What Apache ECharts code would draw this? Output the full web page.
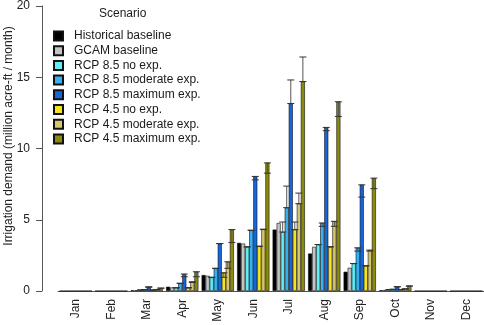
<!DOCTYPE html>
<html>
<head>
<meta charset="utf-8">
<script src="https://cdn.jsdelivr.net/npm/echarts@6/dist/echarts.min.js"></script>
<style>
  html, body { margin: 0; padding: 0; background: #fff; }
  #main { width: 484px; height: 325px; }
</style>
</head>
<body>
<div id="main"></div>
<script>
// 月份
var months = ['Jan', 'Feb', 'Mar', 'Apr', 'May', 'Jun', 'Jul', 'Aug', 'Sep', 'Oct', 'Nov', 'Dec'];
var yTicks = [0, 5, 10, 15, 20];

// 柱子数值 (million acre-ft / month)
var historical = [0, 0, 0.05, 0.30, 1.12, 3.38, 4.31, 2.63, 1.35, 0.05, 0, 0];
var gcam       = [0, 0, 0.05, 0.25, 1.07, 3.33, 4.77, 3.10, 1.63, 0.07, 0, 0];
var rcp85No    = [0, 0, 0.07, 0.23, 0.96, 3.10, 4.14, 3.26, 1.93, 0.10, 0, 0];
var rcp85Mod   = [0, 0, 0.10, 0.54, 1.59, 4.26, 5.85, 4.77, 3.03, 0.12, 0, 0];
var rcp85Max   = [0, 0, 0.26, 1.19, 3.33, 8.04, 13.16, 11.48, 7.45, 0.30, 0, 0];
var rcp45No    = [0, 0, 0.07, 0.23, 1.28, 3.14, 4.31, 3.10, 1.77, 0.10, 0, 0];
var rcp45Mod   = [0, 0, 0.10, 0.65, 2.05, 4.33, 6.13, 4.89, 2.87, 0.15, 0, 0];
var rcp45Max   = [0, 0, 0.20, 1.35, 4.31, 8.99, 14.70, 13.28, 7.92, 0.35, 0, 0];

// 误差线另一端
var rcp85NoErr  = [0, 0, 0.07, 0.23, 0.96, 3.10, 4.84, 3.26, 1.93, 0.10, 0, 0];
var rcp85ModErr = [0, 0, 0.10, 0.54, 1.59, 4.26, 7.36, 4.54, 2.80, 0.12, 0, 0];
var rcp85MaxErr = [0, 0, 0.30, 1.00, 3.33, 7.80, 14.81, 11.25, 6.59, 0.30, 0, 0];
var rcp45NoErr  = [0, 0, 0.07, 0.23, 0.96, 3.14, 4.84, 3.10, 1.77, 0.10, 0, 0];
var rcp45ModErr = [0, 0, 0.10, 0.60, 1.59, 4.33, 6.87, 4.54, 2.80, 0.15, 0, 0];
var rcp45MaxErr = [0, 0, 0.20, 1.00, 3.40, 8.27, 16.42, 12.25, 7.18, 0.35, 0, 0];

var names = ['Historical baseline', 'GCAM baseline', 'RCP 8.5 no exp.', 'RCP 8.5 moderate exp.',
    'RCP 8.5 maximum exp.', 'RCP 4.5 no exp.', 'RCP 4.5 moderate exp.', 'RCP 4.5 maximum exp.'];
var colors = ['#000000', '#c4c4c4', '#5ef0f6', '#38b2f2', '#1467dc', '#f7e51c', '#d5c66e', '#8c8a0c'];
var values = [historical, gcam, rcp85No, rcp85Mod, rcp85Max, rcp45No, rcp45Mod, rcp45Max];
var errEnds = [null, null, rcp85NoErr, rcp85ModErr, rcp85MaxErr, rcp45NoErr, rcp45ModErr, rcp45MaxErr];

var GAP = 0.09;
var FONT = 'Liberation Sans, Arial, sans-serif';

var myChart = echarts.init(document.getElementById('main'));

var series = [];
for (var i = 0; i < names.length; i++) {
    series.push({
        name: names[i],
        type: 'bar',
        barGap: '0%',
        barCategoryGap: (GAP * 100) + '%',
        data: values[i],
        itemStyle: { color: colors[i], borderColor: '#111', borderWidth: 0.6 },
        silent: true
    });
}

// 误差线数据
var errData = [];
for (var k = 0; k < names.length; k++) {
    if (!errEnds[k]) continue;
    for (var m = 0; m < months.length; m++) {
        if (values[k][m] > 0) errData.push([m, k, values[k][m], errEnds[k][m]]);
    }
}

series.push({
    type: 'custom',
    silent: true,
    z: 5,
    data: errData,
    renderItem: function (params, api) {
        var m = api.value(0), k = api.value(1);
        var catW = api.size([1, 0])[0];
        var bw = catW * (1 - GAP) / names.length;
        var cx = api.coord([m, 0])[0] - catW * (1 - GAP) / 2 + (k + 0.5) * bw;
        var y1 = api.coord([m, api.value(2)])[1];
        var y2 = api.coord([m, api.value(3)])[1];
        var cap = 3.5;
        var st = { stroke: '#333', lineWidth: 1 };
        return {
            type: 'group',
            children: [
                { type: 'line', shape: { x1: cx, y1: y1, x2: cx, y2: y2 }, style: { stroke: '#555', lineWidth: 1 } },
                { type: 'line', shape: { x1: cx - cap, y1: y1, x2: cx + cap, y2: y1 }, style: st },
                { type: 'line', shape: { x1: cx - cap, y1: y2, x2: cx + cap, y2: y2 }, style: st }
            ]
        };
    }
});

var option = {
    animation: false,
    textStyle: { fontFamily: FONT },
    title: {
        text: 'Scenario',
        left: 99,
        top: 8,
        padding: 0,
        textStyle: { fontSize: 12, fontWeight: 'normal', color: '#1a1a1a', fontFamily: FONT }
    },
    legend: {
        orient: 'vertical',
        left: 53,
        top: 30,
        padding: 0,
        itemGap: 2.7,
        itemWidth: 21,
        itemHeight: 9,
        icon: 'path://M0,0L10,0L10,10L0,10Z',
        data: names,
        selectedMode: false,
        textStyle: { fontSize: 12, lineHeight: 12, color: '#1a1a1a', fontFamily: FONT }
    },
    grid: { left: 58, right: 0, top: 5, bottom: 34 },
    xAxis: {
        type: 'category',
        data: months,
        axisLine: { lineStyle: { color: '#555', width: 1 } },
        axisTick: { alignWithLabel: true, length: 6, lineStyle: { color: '#555' } },
        axisLabel: { rotate: 90, fontSize: 12, color: '#222', margin: 8, fontFamily: FONT }
    },
    yAxis: {
        type: 'value',
        min: yTicks[0],
        max: yTicks[yTicks.length - 1],
        interval: 5,
        offset: 16,
        splitLine: { show: false },
        axisLine: { show: true, lineStyle: { color: '#555', width: 1 } },
        axisTick: { show: true, length: 6, lineStyle: { color: '#555' } },
        axisLabel: { fontSize: 12, color: '#222', margin: 12, fontFamily: FONT }
    },
    graphic: [{
        type: 'text',
        x: 9,
        y: 136,
        rotation: Math.PI / 2,
        style: {
            text: 'Irrigation demand (million acre-ft / month)',
            fontSize: 12,
            fill: '#222',
            fontFamily: FONT,
            align: 'center',
            verticalAlign: 'middle'
        }
    }],
    series: series
};

myChart.setOption(option);
</script>
</body>
</html>
